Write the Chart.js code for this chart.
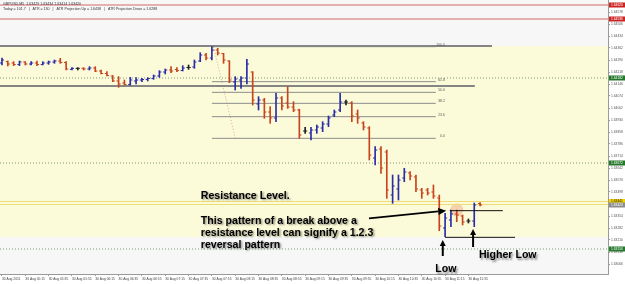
<!DOCTYPE html>
<html>
<head>
<meta charset="utf-8">
<script src="https://cdn.jsdelivr.net/npm/chart.js@4.4.1/dist/chart.umd.min.js"></script>
<style>
html, body { margin: 0; padding: 0; background: #fff; }
</style>
</head>
<body>
<canvas id="chart" width="625" height="284"></canvas>
<script>
// GBPUSD M5, 30 Aug 2011 - one entry per bar
const timeLabels = ['30 Aug 2011', '30 Aug 05:15', '30 Aug 05:35', '30 Aug 05:55', '30 Aug 06:15', '30 Aug 06:35',
  '30 Aug 06:55', '30 Aug 07:15', '30 Aug 07:35', '30 Aug 07:55', '30 Aug 08:15', '30 Aug 08:35', '30 Aug 08:55',
  '30 Aug 09:15', '30 Aug 09:35', '30 Aug 09:55', '30 Aug 10:15', '30 Aug 10:35', '30 Aug 10:55', '30 Aug 11:15',
  '30 Aug 11:35']
const barsPerLabel = 4

const opens = [
  1.64272, 1.64281, 1.64272, 1.64263, 1.64278, 1.64266, 1.64272, 1.64263, 1.64272, 1.64278,
  1.64284, 1.64275, 1.64234, 1.64240, 1.64240, 1.64236, 1.64242, 1.64224, 1.64209, 1.64194,
  1.64164, 1.64152, 1.64143, 1.64164, 1.64170, 1.64173, 1.64179, 1.64194, 1.64218, 1.64230,
  1.64233, 1.64227, 1.64245, 1.64248, 1.64284, 1.64320, 1.64302, 1.64350, 1.64329, 1.64284,
  1.64158, 1.64170, 1.64182, 1.64218, 1.64026, 1.64050, 1.63978, 1.63942, 1.64062, 1.64032,
  1.64008, 1.63990, 1.63864, 1.63852, 1.63870, 1.63882, 1.63906, 1.63960, 1.63990, 1.64038,
  1.64032, 1.63966, 1.63912, 1.63882, 1.63702, 1.63756, 1.63738, 1.63480, 1.63516, 1.63582,
  1.63612, 1.63588, 1.63510, 1.63510, 1.63498, 1.63462, 1.63282, 1.63330, 1.63366, 1.63354,
  1.63324, 1.63324, 1.63429]
const highs = [
  1.64302, 1.64284, 1.64280, 1.64284, 1.64280, 1.64280, 1.64284, 1.64280, 1.64284, 1.64290,
  1.64300, 1.64280, 1.64244, 1.64244, 1.64244, 1.64250, 1.64250, 1.64230, 1.64220, 1.64197,
  1.64190, 1.64170, 1.64186, 1.64184, 1.64180, 1.64184, 1.64200, 1.64226, 1.64236, 1.64250,
  1.64244, 1.64256, 1.64260, 1.64290, 1.64334, 1.64330, 1.64370, 1.64360, 1.64330, 1.64286,
  1.64190, 1.64190, 1.64294, 1.64220, 1.64070, 1.64060, 1.64010, 1.64090, 1.64070, 1.64130,
  1.64040, 1.63995, 1.63886, 1.63886, 1.63900, 1.63920, 1.63954, 1.63990, 1.64090, 1.64050,
  1.64040, 1.63990, 1.63920, 1.63890, 1.63770, 1.63770, 1.63750, 1.63600, 1.63600, 1.63640,
  1.63620, 1.63600, 1.63520, 1.63520, 1.63540, 1.63480, 1.63370, 1.63390, 1.63390, 1.63360,
  1.63336, 1.63432, 1.63434]
const lows = [
  1.64260, 1.64254, 1.64256, 1.64256, 1.64260, 1.64260, 1.64256, 1.64260, 1.64264, 1.64270,
  1.64270, 1.64230, 1.64230, 1.64230, 1.64230, 1.64230, 1.64220, 1.64206, 1.64194, 1.64160,
  1.64126, 1.64140, 1.64140, 1.64146, 1.64160, 1.64164, 1.64174, 1.64186, 1.64206, 1.64214,
  1.64220, 1.64224, 1.64234, 1.64240, 1.64280, 1.64290, 1.64290, 1.64320, 1.64270, 1.64154,
  1.64110, 1.64120, 1.64146, 1.64020, 1.63990, 1.63940, 1.63910, 1.63920, 1.63990, 1.64000,
  1.63980, 1.63820, 1.63850, 1.63810, 1.63850, 1.63860, 1.63890, 1.63950, 1.63980, 1.64020,
  1.63920, 1.63910, 1.63870, 1.63690, 1.63660, 1.63610, 1.63460, 1.63430, 1.63450, 1.63560,
  1.63570, 1.63500, 1.63460, 1.63480, 1.63460, 1.63266, 1.63230, 1.63290, 1.63320, 1.63300,
  1.63312, 1.63290, 1.63414]
const closes = [
  1.64290, 1.64266, 1.64263, 1.64278, 1.64266, 1.64272, 1.64263, 1.64272, 1.64278, 1.64284,
  1.64275, 1.64236, 1.64240, 1.64240, 1.64236, 1.64242, 1.64224, 1.64209, 1.64197, 1.64164,
  1.64146, 1.64143, 1.64170, 1.64170, 1.64173, 1.64179, 1.64194, 1.64218, 1.64230, 1.64224,
  1.64227, 1.64242, 1.64245, 1.64278, 1.64320, 1.64302, 1.64350, 1.64332, 1.64290, 1.64170,
  1.64176, 1.64182, 1.64266, 1.64050, 1.64050, 1.63978, 1.63942, 1.64062, 1.64014, 1.64008,
  1.63990, 1.63840, 1.63864, 1.63870, 1.63888, 1.63906, 1.63942, 1.63978, 1.64038, 1.64038,
  1.63954, 1.63942, 1.63888, 1.63720, 1.63750, 1.63642, 1.63510, 1.63534, 1.63570, 1.63618,
  1.63594, 1.63516, 1.63492, 1.63492, 1.63474, 1.63294, 1.63342, 1.63366, 1.63360, 1.63318,
  1.63324, 1.63420, 1.63420]

// price axis
const priceTicks = [1.64578, 1.64506, 1.64434, 1.64362, 1.64290, 1.64218, 1.64146, 1.64074, 1.64002, 1.63930,
  1.63858, 1.63786, 1.63714, 1.63642, 1.63570, 1.63498, 1.63426, 1.63354, 1.63282, 1.63210, 1.63138, 1.63066]
const priceMin = 1.63006, priceMax = 1.64650
const xMin = -0.34, xMax = 103.94

// objects on the chart
const redLevels = [1.64620, 1.64536]
const dottedLevels = [1.64182, 1.63672, 1.63156]
const yellowLevels = [1.63441, 1.63423]
const zoneTop = 1.64374, zoneBottom = 1.63228
const longLevels = [1.64374, 1.64134]
const longEnds = [84.05, 81.1]
const fibNames = ['0.0', '23.6', '38.2', '50.0', '61.8', '100.0']
const fibPrices = [1.63820, 1.63950, 1.64030, 1.64096, 1.64160, 1.64370]
const fibFrom = 36, fibTo = 74.4
const fibDiagonal = [[36.3, 1.64368], [40.0, 1.63822]]
const resistanceLine = [[76.8, 1.63386], [85.9, 1.63386]]
const lowLine = [[76.0, 1.63226], [88.0, 1.63226]]
const arrows = [
  [[62.95, 1.63340], [76.2, 1.63386]],
  [[75.6, 1.63114], [75.6, 1.63210]],
  [[80.8, 1.63168], [80.8, 1.63276]]
]
const highlight = [78.0, 1.63390]
const notes = [
  ['Resistance Level.', 34.1, 1.63459],
  ['This pattern of a break above a', 34.1, 1.63309],
  ['resistance level can signify a 1.2.3', 34.1, 1.63237],
  ['reversal pattern', 34.1, 1.63165],
  ['Higher Low', 81.8, 1.63102],
  ['Low', 74.3, 1.63018]
]
const header1 = 'GBPUSD,M5  1.63429 1.63434 1.63414 1.63420'
const header2 = 'Today = 101.7   |   ATR = 130   |   ATR Projection Up = 1.6438   |   ATR Projection Down = 1.6288'

const UP = '#2c2ca6', DOWN = '#c8441e', FLAT = '#202020'
function barColor(i) {
  if (closes[i] > opens[i]) return UP
  if (closes[i] < opens[i]) return DOWN
  return FLAT
}
const idx = opens.map((_, i) => i)
const colors = idx.map(barColor)

function hline(price, from, to, color, width, dash) {
  return {
    type: 'line', data: [{x: from, y: price}, {x: to, y: price}],
    borderColor: color, borderWidth: width, borderDash: dash || [],
    pointRadius: 0, pointHoverRadius: 0, order: 5
  }
}

const datasets = [
  {
    type: 'bar', data: idx.map(i => ({x: i, y: [lows[i], highs[i]]})),
    backgroundColor: colors, barThickness: 1, order: 1
  },
  {
    type: 'scatter', data: idx.map(i => ({x: i - 0.17, y: opens[i]})),
    pointStyle: 'line', pointRadius: 1.1, pointHoverRadius: 1.1, pointBorderWidth: 1, pointBorderColor: colors, order: 0
  },
  {
    type: 'scatter', data: idx.map(i => ({x: i + 0.17, y: closes[i]})),
    pointStyle: 'line', pointRadius: 1.1, pointHoverRadius: 1.1, pointBorderWidth: 1, pointBorderColor: colors, order: 0
  }
]
redLevels.forEach(p => datasets.push(hline(p, xMin, xMax, '#d26a6a', 1.2)))
dottedLevels.forEach(p => datasets.push(hline(p, xMin, xMax, '#7d9c78', 1, [1, 2])))
yellowLevels.forEach(p => datasets.push(hline(p, xMin, xMax, '#eedc78', 1.2)))
longLevels.forEach((p, k) => datasets.push(hline(p, xMin, longEnds[k], '#858585', 2)))
fibPrices.forEach(p => datasets.push(hline(p, fibFrom, fibTo, '#8c8c8c', 1)))
datasets.push({
  type: 'line', data: fibDiagonal.map(d => ({x: d[0], y: d[1]})),
  borderColor: '#d8aa90', borderWidth: 1, borderDash: [1, 2], pointRadius: 0, pointHoverRadius: 0, order: 5
})
;[resistanceLine, lowLine].forEach(l => datasets.push({
  type: 'line', data: l.map(d => ({x: d[0], y: d[1]})),
  borderColor: '#111', borderWidth: 1, pointRadius: 0, pointHoverRadius: 0, order: 0
}))

function arrow(ctx, x1, y1, x2, y2, w, hl, hw) {
  const a = Math.atan2(y2 - y1, x2 - x1)
  const bx = x2 - Math.cos(a) * hl, by = y2 - Math.sin(a) * hl
  ctx.lineWidth = w
  ctx.beginPath(); ctx.moveTo(x1, y1); ctx.lineTo(bx, by); ctx.stroke()
  ctx.beginPath()
  ctx.moveTo(x2, y2)
  ctx.lineTo(bx + Math.sin(a) * hw / 2, by - Math.cos(a) * hw / 2)
  ctx.lineTo(bx - Math.sin(a) * hw / 2, by + Math.cos(a) * hw / 2)
  ctx.closePath(); ctx.fill()
}

const backdrop = {
  id: 'backdrop',
  beforeDatasetsDraw(chart) {
    const {ctx, chartArea: a, scales: {x, y}} = chart
    ctx.save()
    ctx.fillStyle = '#f7f7f7'
    ctx.fillRect(a.left, a.top, a.width, a.height)
    const t = y.getPixelForValue(zoneTop), b = y.getPixelForValue(zoneBottom)
    ctx.fillStyle = '#fbfbda'
    ctx.fillRect(a.left, t, a.width, b - t)
    ctx.fillStyle = 'rgba(240,170,130,0.5)'
    ctx.beginPath()
    ctx.arc(x.getPixelForValue(highlight[0]), y.getPixelForValue(highlight[1]), 6.5, 0, Math.PI * 2)
    ctx.fill()
    ctx.restore()
  }
}

const overlay = {
  id: 'overlay',
  afterDatasetsDraw(chart) {
    const {ctx, chartArea: a, scales: {x, y}} = chart
    ctx.save()
    // fib level names
    ctx.font = '3.4px "Liberation Sans"'
    ctx.fillStyle = '#555'
    ctx.textAlign = 'right'
    fibPrices.forEach((p, k) => ctx.fillText(fibNames[k], x.getPixelForValue(fibTo) + 9, y.getPixelForValue(p) - 1))
    // header
    ctx.textAlign = 'left'
    ctx.font = '3.6px "Liberation Sans"'
    ctx.fillStyle = '#333'
    ctx.fillText(header1, a.left + 3, a.top + 5)
    ctx.fillText(header2, a.left + 3, a.top + 9.5)
    // arrows
    ctx.strokeStyle = '#000'
    ctx.fillStyle = '#000'
    arrows.forEach((ar, k) => {
      const x1 = x.getPixelForValue(ar[0][0]), y1 = y.getPixelForValue(ar[0][1])
      const x2 = x.getPixelForValue(ar[1][0]), y2 = y.getPixelForValue(ar[1][1])
      if (k === 0) arrow(ctx, x1, y1, x2, y2, 1.8, 8, 7)
      else arrow(ctx, x1, y1, x2, y2, 2, 6, 6)
    })
    // notes
    ctx.font = 'bold 10.6px "Liberation Sans"'
    ctx.shadowColor = 'rgba(0,0,0,0.45)'
    ctx.shadowOffsetX = 1.5
    ctx.shadowOffsetY = 1.5
    ctx.shadowBlur = 2
    notes.forEach(n => ctx.fillText(n[0], x.getPixelForValue(n[1]), y.getPixelForValue(n[2])))
    ctx.restore()
  },
  afterDraw(chart) {
    const {ctx, chartArea: a, scales: {y}} = chart
    const tags = []
    redLevels.forEach(p => tags.push([p, '#cc2424', '#fff']))
    dottedLevels.forEach(p => tags.push([p, '#23782a', '#fff']))
    tags.push([yellowLevels[0], '#f3d400', '#222'])
    tags.push([closes[closes.length - 1], '#8e8e8e', '#fff'])
    ctx.save()
    ctx.font = '3.3px "Liberation Sans"'
    ctx.textAlign = 'left'
    ctx.textBaseline = 'middle'
    tags.forEach(t => {
      const py = y.getPixelForValue(t[0])
      ctx.fillStyle = t[1]
      ctx.fillRect(a.right + 1, py - 2.5, 16, 5)
      ctx.fillStyle = t[2]
      ctx.fillText(t[0].toFixed(5), a.right + 3, py)
    })
    ctx.restore()
  }
}

Chart.defaults.font.family = '"Liberation Sans", Arial, sans-serif'

new Chart(document.getElementById('chart'), {
  type: 'bar',
  data: {datasets: datasets},
  options: {
    responsive: false,
    animation: false,
    events: [],
    layout: {padding: 0, autoPadding: false},
    plugins: {legend: {display: false}, tooltip: {enabled: false}},
    scales: {
      x: {
        type: 'linear', position: 'bottom', min: xMin, max: xMax, offset: false,
        grid: {drawOnChartArea: false, tickLength: 2, color: '#9a9a9a', offset: false},
        border: {color: '#9a9a9a'},
        afterBuildTicks: s => { s.ticks = timeLabels.map((_, k) => ({value: k * barsPerLabel})) },
        afterFit: s => { s.height = 10; s.paddingLeft = 0; s.paddingRight = 0 },
        ticks: {
          autoSkip: false, maxRotation: 0, align: 'start', padding: 1,
          font: {size: 3.3}, color: '#444',
          callback: (v, k) => timeLabels[k]
        }
      },
      y: {
        type: 'linear', position: 'right', min: priceMin, max: priceMax,
        grid: {drawOnChartArea: false, tickLength: 2, color: '#9a9a9a'},
        border: {color: '#9a9a9a'},
        afterBuildTicks: s => { s.ticks = priceTicks.map(v => ({value: v})) },
        afterFit: s => { s.width = 17; s.paddingTop = 0; s.paddingBottom = 0 },
        ticks: {
          padding: 1, font: {size: 3.3}, color: '#555',
          callback: v => v.toFixed(5)
        }
      }
    }
  },
  plugins: [backdrop, overlay]
})
</script>
</body>
</html>
